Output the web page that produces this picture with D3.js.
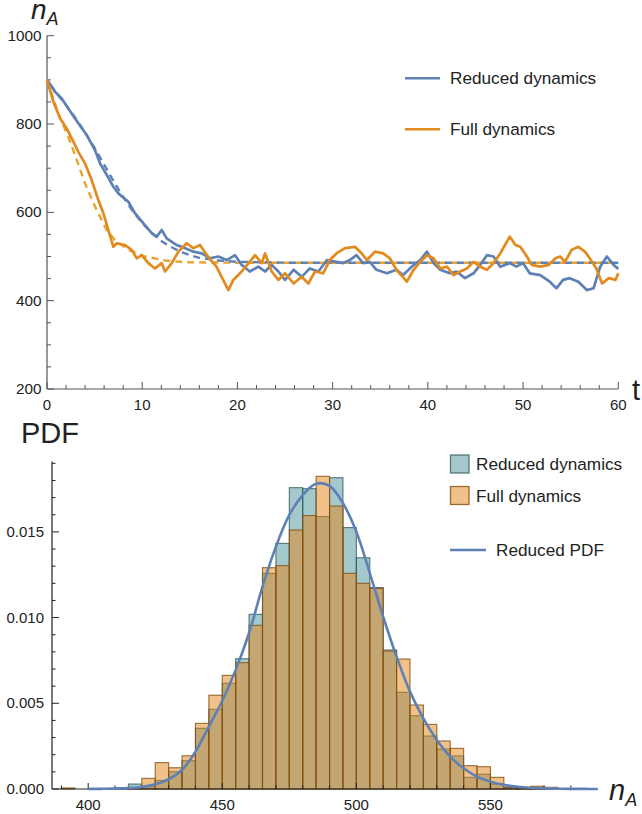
<!DOCTYPE html>
<html><head><meta charset="utf-8">
<script src="https://cdn.jsdelivr.net/npm/d3@7"></script>
<style>body{margin:0;background:#fff}svg{display:block}text{font-family:"Liberation Sans",Arial,sans-serif;fill:#222}</style>
</head><body><svg id="c" width="642" height="814"></svg>
<script>
// ---------- top chart data ----------
const redT = [0,0.84,1.54,2.59,3.29,4.17,5.04,5.57,6.27,6.97,7.49,8.54,9.24,10.12,11.0,11.52,12.05,12.57,13.62,14.5,15.37,16.25,17.12,18.0,18.87,19.75,20.45,21.3,22.2,22.9,23.6,24.3,25.0,25.9,26.75,27.6,28.5,29.4,30.4,31.1,31.8,32.5,33.2,33.9,34.6,35.7,36.7,37.4,38.3,39.2,39.9,40.6,41.3,42.3,43.0,43.9,44.8,45.5,46.2,46.9,47.6,48.6,49.3,50.0,50.7,51.8,52.8,53.5,54.2,54.9,55.8,56.7,57.4,58.1,58.8,59.5,60];
const redV = [900,873,858,824,802,775,741,711,685,658,643,624,598,575,553,545,560,541,526,519,511,507,496,500,492,503,481,466,477,466,481,466,447,470,454,473,466,492,488,485,492,503,485,488,470,462,470,458,477,492,511,485,470,462,466,451,462,481,503,500,477,485,477,485,462,458,443,428,447,451,443,424,428,477,500,481,472];
const fullT = [0,0.66,1.37,2.07,2.77,3.29,3.99,4.69,5.39,5.92,6.44,6.97,7.32,8.19,8.9,9.42,9.95,10.64,11.34,12.05,12.4,13.1,13.8,14.67,15.37,16.07,16.9,17.8,18.5,19.05,19.57,20.27,20.98,21.85,22.55,22.9,23.6,24.3,25.0,25.9,26.75,27.45,28.15,29.0,29.7,30.4,31.3,32.35,33.05,33.6,34.45,35.3,36.0,36.7,37.8,38.5,39.2,39.9,40.6,41.3,42.0,42.7,43.4,44.1,44.8,45.5,46.2,46.9,47.6,48.1,48.6,49.2,49.7,50.4,50.9,51.8,52.7,53.4,53.9,54.4,55.1,55.8,56.5,57.0,57.7,58.3,59.0,59.7,60];
const fullV = [900,851,813,790,760,737,711,673,628,598,560,522,530,526,515,496,503,485,473,485,466,485,511,530,519,526,500,477,447,424,447,462,480,503,485,507,466,447,462,439,454,439,466,462,492,507,519,522,507,492,511,507,496,470,443,470,488,503,496,473,477,458,466,473,488,477,470,485,507,526,545,526,522,500,481,477,481,496,500,488,515,522,511,496,473,439,451,447,462];
const redMeanT = [0,1,2,3,4,5,6,7,8,9,10,11,12,13,14,15,16,18,20,25,60];
const redMeanV = [900,870,843,813,781,746,708,670,635,603,576,553,535,522,511,503,497,491,488,486,486];
const fullMeanT = [0,1.19,2.24,3.12,3.99,4.87,5.57,6.27,7.14,8.54,10.3,12.4,14.5,20,60];
const fullMeanV = [900,824,771,719,666,621,590,560,537,515,500,491,487,486,486];
const topXTicks = [0,10,20,30,40,50,60];
const topYTicks = [200,400,600,800,1000];
const topLegend = ["Reduced dynamics","Full dynamics"];

// ---------- histogram data ----------
const binStart = [390,395,400,405,410,415,420,425,430,435,440,445,450,455,460,465,470,475,480,485,490,495,500,505,510,515,520,525,530,535,540,545,550,555,560,565,570];
const reducedPdf = [0,0,0,0,0.03,0.29,0.13,0.5,1.01,1.65,3.54,4.65,6.17,7.60,10.19,12.58,14.33,17.58,17.52,15.89,18.16,15.25,13.49,11.75,8.11,5.64,4.28,3.09,2.33,1.93,0.68,0.86,0.29,0.08,0.03,0.05,0]; // x 1e-3
const fullPdf = [0.06,0,0,0,0,0.08,0.62,1.54,1.24,1.94,3.83,5.47,6.63,7.37,9.55,12.91,13.03,15.11,15.95,18.24,16.51,12.58,12.0,11.7,8.05,7.58,4.90,3.77,2.80,2.37,1.36,1.30,0.68,0.1,0.03,0.16,0.1]; // x 1e-3
const curveX = [400,405,410,415,420,425,430,435,440,445,450,455,460,465,470,475,480,485,490,495,500,505,510,515,520,525,530,535,540,545,550,555,560,565,570,575,580,585,590];
const curveY = [0.005,0.01,0.03,0.06,0.12,0.27,0.57,1.11,2.18,3.64,5.15,6.95,9.1,11.8,14.14,15.99,17.15,17.81,17.68,16.67,15.01,12.6,10.05,7.72,5.68,4.12,2.86,1.89,1.21,0.72,0.43,0.24,0.13,0.07,0.04,0.02,0.01,0.005,0.002]; // x 1e-3
const histXTicks = [400,450,500,550];
const histYTicks = [0,0.005,0.010,0.015];
const histLegend = ["Reduced dynamics","Full dynamics","Reduced PDF"];

const BLUE = "#5E81B5", ORANGE = "#E28A1E", ORANGE_D = "#E8A332";
const AXIS = "#555";
const svg = d3.select("#c");

// ================= TOP CHART =================
const x1 = d3.scaleLinear().domain([0,60]).range([47,618.3]);
const y1 = d3.scaleLinear().domain([200,1000]).range([389,35.7]);
const g1 = svg.append("g");
g1.append("line").attr("x1",x1(0)).attr("x2",x1(60)).attr("y1",y1(200)).attr("y2",y1(200)).attr("stroke",AXIS).attr("stroke-width",1.2);
g1.append("line").attr("x1",x1(0)).attr("x2",x1(0)).attr("y1",y1(200)).attr("y2",y1(1000)).attr("stroke",AXIS).attr("stroke-width",1.2);
d3.range(0,61,2).forEach(t=>{
  const major = topXTicks.includes(t);
  g1.append("line").attr("x1",x1(t)).attr("x2",x1(t)).attr("y1",y1(200)).attr("y2",y1(200)-(major?7:4)).attr("stroke",AXIS).attr("stroke-width",1);
});
topXTicks.forEach(t=>g1.append("text").attr("x",x1(t)).attr("y",410).attr("text-anchor","middle").attr("font-size",15).text(t));
d3.range(200,1001,50).forEach(v=>{
  const major = topYTicks.includes(v);
  g1.append("line").attr("x1",x1(0)).attr("x2",x1(0)+(major?7:4)).attr("y1",y1(v)).attr("y2",y1(v)).attr("stroke",AXIS).attr("stroke-width",1);
});
topYTicks.forEach(v=>g1.append("text").attr("x",41.5).attr("y",y1(v)+5).attr("text-anchor","end").attr("font-size",15.3).text(v));
const nA1 = g1.append("text").attr("x",31).attr("y",19).attr("font-size",28).attr("font-style","italic");
nA1.append("tspan").text("n");
nA1.append("tspan").attr("font-size",18).attr("dy",6).text("A");
g1.append("text").attr("x",632).attr("y",400).attr("font-size",29).text("t");

const line1 = (T,V)=>d3.line().x((d,i)=>x1(T[i])).y((d,i)=>y1(V[i]))(V);
g1.append("path").attr("d",line1(fullMeanT,fullMeanV)).attr("fill","none").attr("stroke",ORANGE_D).attr("stroke-width",2.4).attr("stroke-dasharray","7,5");
g1.append("path").attr("d",line1(redMeanT,redMeanV)).attr("fill","none").attr("stroke",BLUE).attr("stroke-width",2.4).attr("stroke-dasharray","7,5").attr("stroke-dashoffset",6);
g1.append("path").attr("d",line1(redT,redV)).attr("fill","none").attr("stroke",BLUE).attr("stroke-width",2.7).attr("stroke-linejoin","round");
g1.append("path").attr("d",line1(fullT,fullV)).attr("fill","none").attr("stroke",ORANGE).attr("stroke-width",2.7).attr("stroke-linejoin","round");
[BLUE,ORANGE].forEach((c,i)=>{
  const yy = 78.3 + i*51;
  g1.append("line").attr("x1",405).attr("x2",440).attr("y1",yy).attr("y2",yy).attr("stroke",c).attr("stroke-width",2.6);
  g1.append("text").attr("x",450).attr("y",yy+6).attr("font-size",17.2).text(topLegend[i]);
});

// ================= HISTOGRAM =================
const x2 = d3.scaleLinear().domain([386.5,590]).range([52,597.7]);
const y2 = d3.scaleLinear().domain([0,0.0191]).range([789,461.6]);
const g2 = svg.append("g");
const TEAL_F = "rgba(71,147,153,0.5)", TEAL_S = "rgba(40,80,82,0.75)";
const OR_F = "rgba(228,132,22,0.5)", OR_S = "rgba(130,76,16,0.8)";
binStart.forEach((b,i)=>{
  const v = reducedPdf[i]*1e-3;
  if(v>0) g2.append("rect").attr("x",x2(b)).attr("width",x2(b+5)-x2(b)).attr("y",y2(v)).attr("height",y2(0)-y2(v)).attr("fill",TEAL_F).attr("stroke",TEAL_S).attr("stroke-width",1.1);
});
binStart.forEach((b,i)=>{
  const v = fullPdf[i]*1e-3;
  if(v>0) g2.append("rect").attr("x",x2(b)).attr("width",x2(b+5)-x2(b)).attr("y",y2(v)).attr("height",y2(0)-y2(v)).attr("fill",OR_F).attr("stroke",OR_S).attr("stroke-width",1.1);
});
g2.append("line").attr("x1",x2(386.5)).attr("x2",x2(590)).attr("y1",y2(0)).attr("y2",y2(0)).attr("stroke","#222").attr("stroke-width",1.2);
g2.append("line").attr("x1",x2(386.5)).attr("x2",x2(386.5)).attr("y1",y2(0)).attr("y2",y2(0.0191)).attr("stroke","#222").attr("stroke-width",1.2);
d3.range(390,590,10).forEach(t=>{
  const major = histXTicks.includes(t);
  g2.append("line").attr("x1",x2(t)).attr("x2",x2(t)).attr("y1",y2(0)).attr("y2",y2(0)-(major?6:3.5)).attr("stroke","#222").attr("stroke-width",1);
});
histXTicks.forEach(t=>g2.append("text").attr("x",x2(t)).attr("y",810).attr("text-anchor","middle").attr("font-size",15).text(t));
d3.range(0,20).forEach(k=>{
  const v = k*0.001, major = k%5===0;
  g2.append("line").attr("x1",x2(386.5)).attr("x2",x2(386.5)+(major?7:3.5)).attr("y1",y2(v)).attr("y2",y2(v)).attr("stroke","#222").attr("stroke-width",1);
});
histYTicks.forEach(v=>g2.append("text").attr("x",44).attr("y",y2(v)+5).attr("text-anchor","end").attr("font-size",15).text(v.toFixed(3)));
const curve = d3.line().curve(d3.curveCatmullRom).x((d,i)=>x2(curveX[i])).y((d,i)=>y2(curveY[i]*1e-3))(curveY);
g2.append("path").attr("d",curve).attr("fill","none").attr("stroke",BLUE).attr("stroke-width",2.6);
g2.append("text").attr("x",21).attr("y",443).attr("font-size",29).text("PDF");
const nA2 = g2.append("text").attr("x",609).attr("y",800).attr("font-size",29).attr("font-style","italic");
nA2.append("tspan").text("n");
nA2.append("tspan").attr("font-size",18).attr("dy",6).text("A");
[[TEAL_F,TEAL_S],[OR_F,OR_S]].forEach((c,i)=>{
  const yy = 455 + i*31.5;
  g2.append("rect").attr("x",450.5).attr("y",yy).attr("width",18.5).attr("height",18).attr("fill",c[0]).attr("stroke",c[1]).attr("stroke-width",1.3);
  g2.append("text").attr("x",476).attr("y",yy+15).attr("font-size",17.2).text(histLegend[i]);
});
g2.append("line").attr("x1",450).attr("x2",486).attr("y1",550).attr("y2",550).attr("stroke",BLUE).attr("stroke-width",2.6);
g2.append("text").attr("x",496).attr("y",556).attr("font-size",17.2).text(histLegend[2]);
</script></body></html>
